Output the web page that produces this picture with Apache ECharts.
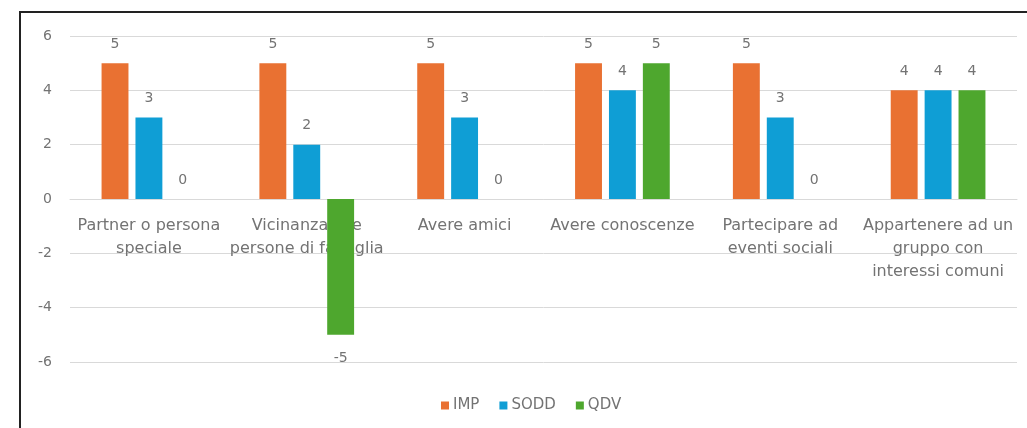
<!DOCTYPE html>
<html>
<head>
<meta charset="utf-8">
<script src="https://cdn.jsdelivr.net/npm/echarts@6/dist/echarts.min.js"></script>
<style>
html,body{margin:0;padding:0;background:#fff;}
#chart{position:absolute;left:0;top:0;width:1027px;height:428px;}
#frame{position:absolute;left:19px;top:11px;right:0;bottom:0;border-top:2px solid #222;border-left:2px solid #222;pointer-events:none;}
</style>
</head>
<body>
<div id="chart"></div>
<div id="frame"></div>
<script>
const categories = [
  "Partner o persona\nspeciale",
  "Vicinanza alle\npersone di famiglia",
  "Avere amici",
  "Avere conoscenze",
  "Partecipare ad\neventi sociali",
  "Appartenere ad un\ngruppo con\ninteressi comuni"
];
const seriesNames = ["IMP", "SODD", "QDV"];
const impValues = [5, 5, 5, 5, 5, 4];
const soddValues = [3, 2, 3, 4, 3, 4];
const qdvValues = [0, -5, 0, 5, 0, 4];
const yTicks = [-6, -4, -2, 0, 2, 4, 6];
const colors = ["#E97132", "#0F9ED5", "#4EA72E"];

const FONT = "DejaVu Sans";
const TXT = "#737373";
const CH = 428, GTOP = 36, GBOTTOM = 66;
const yMin = yTicks[0], yMax = yTicks[yTicks.length - 1];
const gridH = CH - GTOP - GBOTTOM;
const zeroOffset = -gridH * (0 - yMin) / (yMax - yMin);

function toData(arr) {
  return arr.map(v => v < 0
    ? { value: v, label: { position: "bottom", distance: 17 } }
    : { value: v });
}
function makeSeries(name, arr, color) {
  return {
    name: name,
    type: "bar",
    data: toData(arr),
    itemStyle: { color: color },
    barGap: "26%",
    barCategoryGap: "40%",
    label: {
      show: true,
      position: "top",
      distance: 12,
      color: TXT,
      fontFamily: FONT,
      fontSize: 14
    }
  };
}
const chart = echarts.init(document.getElementById("chart"));
chart.setOption({
  animation: false,
  textStyle: { fontFamily: FONT },
  grid: { left: 70, right: 10, top: GTOP, bottom: GBOTTOM, containLabel: false, outerBoundsMode: "none" },
  legend: {
    data: seriesNames,
    bottom: 10,
    left: 436,
    itemWidth: 8,
    itemHeight: 8,
    itemGap: 20,
    icon: "rect",
    textStyle: { color: TXT, fontSize: 15, fontFamily: FONT, padding: [0, 0, 0, -1] }
  },
  xAxis: {
    type: "category",
    data: categories,
    offset: zeroOffset,
    axisLine: { show: true, onZero: false, lineStyle: { color: "#D9D9D9" } },
    axisTick: { show: false },
    axisLabel: {
      color: TXT,
      fontSize: 16,
      fontFamily: FONT,
      lineHeight: 23,
      margin: 15,
      interval: 0
    }
  },
  yAxis: {
    type: "value",
    min: yMin,
    max: yMax,
    interval: 2,
    axisLine: { show: false },
    axisTick: { show: false },
    splitLine: { lineStyle: { color: "#D9D9D9" } },
    axisLabel: { color: TXT, fontSize: 14, fontFamily: FONT, margin: 18 }
  },
  series: [
    makeSeries(seriesNames[0], impValues, colors[0]),
    makeSeries(seriesNames[1], soddValues, colors[1]),
    makeSeries(seriesNames[2], qdvValues, colors[2])
  ]
});
</script>
</body>
</html>
